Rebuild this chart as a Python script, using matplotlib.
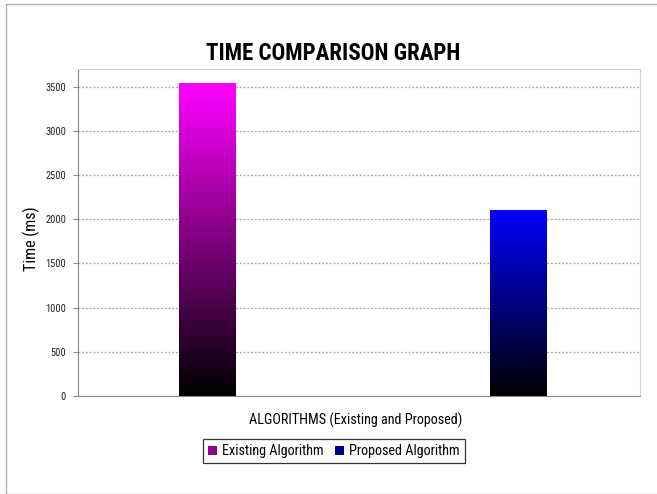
import numpy as np
import matplotlib.pyplot as plt
from matplotlib.patches import Rectangle
from matplotlib.colors import LinearSegmentedColormap
from matplotlib.font_manager import fontManager

# Algorithm timings (ms)
algorithms = ['Existing Algorithm', 'Proposed Algorithm']
times_ms = [3540, 2100]
top_colors = ['#ff00ff', '#0000ff']
positions = [0.46, 1.567]

names = {f.name for f in fontManager.ttflist}
base = 'Liberation Sans'
for cand in ['Liberation Sans Narrow', 'Roboto Condensed', 'Arial Narrow']:
    if cand in names:
        base = cand
        break
plt.rcParams['font.family'] = [base, 'DejaVu Sans']

W, H = 657, 494
fig = plt.figure(figsize=(W / 100, H / 100), dpi=100)
ax = fig.add_axes([78 / W, 1 - 396 / H, 562 / W, 327 / H])

# outer chart border
fig.patches.append(Rectangle((6 / W, 0), 1, 1 - 4 / H, transform=fig.transFigure,
                             fill=False, edgecolor='#b0b0b0', linewidth=1.0))

ax.set_yticks(np.arange(0, 3501, 500))
ax.set_xticks([])
ax.yaxis.grid(True, linestyle=(0, (1.5, 1.5)), color='#a8a8a8', linewidth=0.9)
ax.set_axisbelow(True)

for side in ['top', 'right']:
    ax.spines[side].set_color('#d0d0d0')
for side in ['left', 'bottom']:
    ax.spines[side].set_color('#888888')
ax.tick_params(axis='y', length=3.6, color='#888888', labelsize=7.5, pad=5,
               labelcolor='#222222')

bars = ax.bar(positions, times_ms, width=0.2, color='none', edgecolor='none', zorder=2)

# vertical gradient fill from colour at top to black at bottom
grad = np.linspace(0, 1, 256).reshape(-1, 1)
handles = []
for rect, col, name in zip(bars, top_colors, algorithms):
    cmap = LinearSegmentedColormap.from_list(name, ['#000000', col])
    x0, w, h = rect.get_x(), rect.get_width(), rect.get_height()
    ax.imshow(grad, cmap=cmap, origin='lower', aspect='auto',
              extent=(x0, x0 + w, 0, h), zorder=3)
    handles.append(Rectangle((0, 0), 1, 1, facecolor=cmap(0.55), edgecolor='none'))
ax.set_xlim(0, 2)
ax.set_ylim(0, 3700)

fig.text(333 / W, 1 - 53 / H, 'TIME COMPARISON GRAPH', ha='center', va='center',
         fontsize=16.5, fontweight='bold')
ax.set_ylabel('Time (ms)', fontsize=11.5)
ax.yaxis.set_label_coords((40 - 78) / 562, 0.48)
fig.text(356 / W, 1 - 420 / H, 'ALGORITHMS (Existing and Proposed)', ha='center',
         va='center', fontsize=10.2)

leg = fig.legend(handles, algorithms, loc='center', bbox_to_anchor=(334 / W, 1 - 451 / H),
                 ncol=2, fontsize=10.2, frameon=True, fancybox=False, handlelength=0.6,
                 handleheight=0.6, handletextpad=0.4, columnspacing=0.8,
                 borderpad=0.35, edgecolor='#000000')
leg.get_frame().set_linewidth(0.9)

fig.savefig('out.png', dpi=100)
